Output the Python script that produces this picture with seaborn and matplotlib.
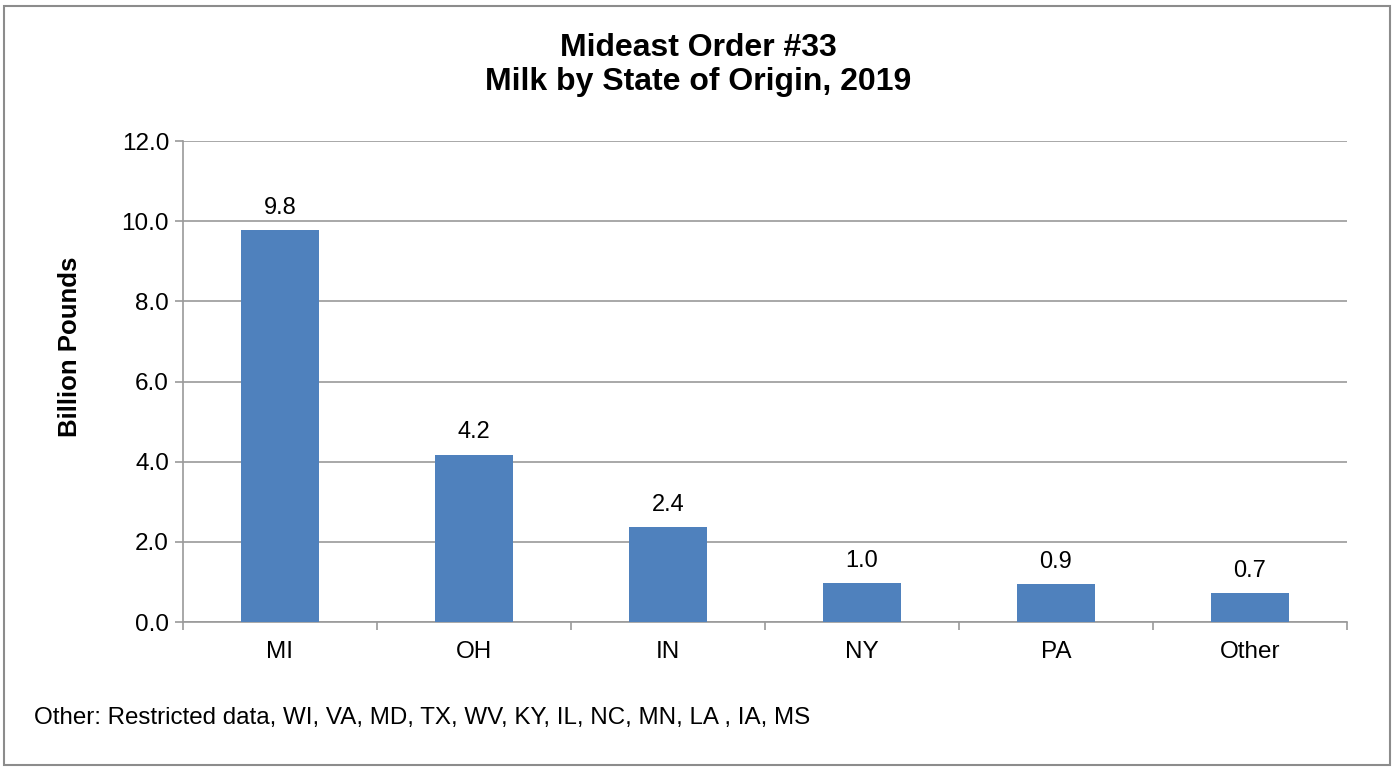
import pandas as pd
import numpy as np
import matplotlib
matplotlib.use('Agg')
import matplotlib.pyplot as plt
import seaborn as sns
from matplotlib.patches import Rectangle

states = ['MI', 'OH', 'IN', 'NY', 'PA', 'Other']
billion_lbs = [9.78, 4.18, 2.37, 0.98, 0.94, 0.72]
bar_labels = ['9.8', '4.2', '2.4', '1.0', '0.9', '0.7']
y_ticks = [0, 2, 4, 6, 8, 10, 12]

df = pd.DataFrame({'state': states, 'value': billion_lbs})


def main():
    sns.set_style('white')
    plt.rcParams['font.family'] = ['Liberation Sans', 'DejaVu Sans']
    plt.rcParams['text.color'] = 'black'
    plt.rcParams['xtick.color'] = 'black'
    plt.rcParams['ytick.color'] = 'black'
    plt.rcParams['axes.labelcolor'] = 'black'

    fig = plt.figure(figsize=(13.97, 7.67), dpi=100)
    ax = fig.add_axes([0.131, 0.189, 0.833, 0.627])

    sns.barplot(x='state', y='value', data=df, color='#4F81BD', width=0.4,
                saturation=1, linewidth=0, ax=ax, zorder=3)

    grid_col = '#9A9A9A'
    ax.set_ylim(0, 12)
    ax.set_xlim(-0.5, len(states) - 0.5)
    ax.set_yticks(y_ticks)
    ax.set_yticklabels([f'{v:.1f}' for v in y_ticks], fontsize=17.5)
    ax.yaxis.grid(True, color=grid_col, linewidth=1.2, zorder=0)
    ax.set_axisbelow(True)

    # category boundary ticks on x axis
    ax.set_xticks(np.arange(len(states)))
    ax.set_xticklabels(states, fontsize=17.5)
    ax.tick_params(axis='x', which='major', bottom=True, length=0, pad=14)
    ax.set_xticks(np.arange(-0.5, len(states)), minor=True)
    ax.tick_params(axis='x', which='minor', bottom=True, length=6, color=grid_col,
                   width=1.2, direction='out')
    ax.tick_params(axis='y', left=True, length=6, color=grid_col, labelcolor='black',
                   width=1.2, direction='out', pad=4)

    for s in ['top', 'right']:
        ax.spines[s].set_visible(False)
    for s in ['left', 'bottom']:
        ax.spines[s].set_color(grid_col)
        ax.spines[s].set_linewidth(1.2)

    for i, (v, lab) in enumerate(zip(billion_lbs, bar_labels)):
        ax.text(i, v + 0.28, lab, ha='center', va='bottom', fontsize=17)

    ax.set_xlabel('')
    ax.set_ylabel('Billion Pounds', fontsize=18.5, fontweight='bold')
    ax.yaxis.set_label_coords(-0.0865, 0.572)

    fig.text(0.5, 0.915, 'Mideast Order #33\nMilk by State of Origin, 2019',
             ha='center', va='center', fontsize=23, fontweight='bold', linespacing=1.15)
    fig.text(0.024, 0.064, 'Other: Restricted data, WI, VA, MD, TX, WV, KY, IL, NC, MN, LA , IA, MS',
             ha='left', va='center', fontsize=17.4)

    fig.patches.append(Rectangle((0.003, 0.003), 0.992, 0.989, transform=fig.transFigure,
                                 fill=False, edgecolor='#8C8C8C', linewidth=1.5))

    plt.savefig('out.png', dpi=100)
    plt.close()


if __name__ == "__main__":
    main()
